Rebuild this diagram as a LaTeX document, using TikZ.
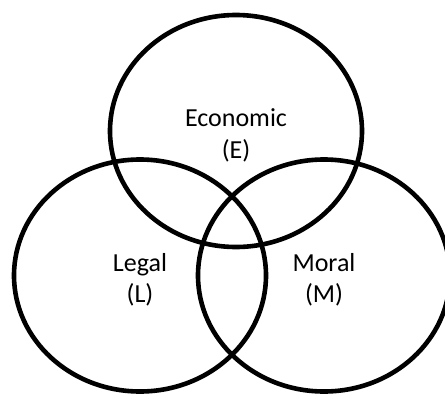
\documentclass[tikz,border=0pt]{standalone}
\usepackage{fontspec}
\setmainfont{Carlito}
\usepackage{tikz}
\usetikzlibrary{shapes.geometric}
\usetikzlibrary{positioning}
\tikzset{
    setring/.style={draw=black, line width=4.6pt, ellipse, inner sep=0pt,
                    minimum width=252pt, minimum height=232pt,
                    align=center, text height=59pt, text depth=5pt,
                    font=\fontsize{26}{31.5}\selectfont}
}

\begin{document}
\begin{tikzpicture}[x=1pt, y=-1pt]
            \useasboundingbox (0,0) rectangle (445,394);
            \node[setring] (econ)  at (236.0, 131.0) {Economic\\(E)};
            \node[setring] (legal) at (140.0, 275.5) {Legal\\(L)};
            \node[setring] (moral) at (324.0, 275.5) {Moral\\(M)};
        \end{tikzpicture}
\end{document}
